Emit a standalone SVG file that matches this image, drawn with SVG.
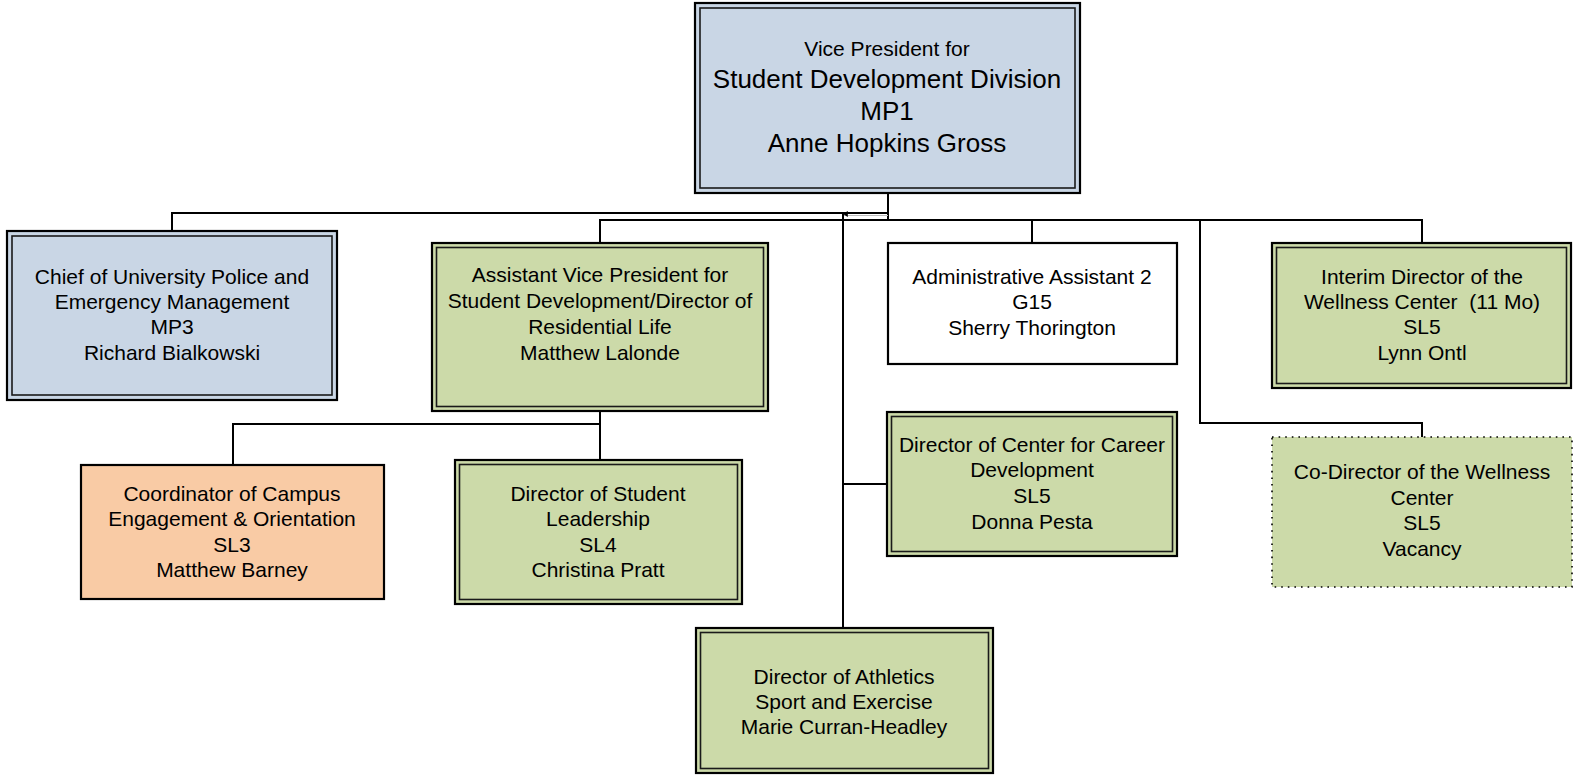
<svg xmlns="http://www.w3.org/2000/svg" width="1574" height="775" viewBox="0 0 1574 775">
<defs>
<style>
.o{stroke:#000;stroke-width:2.2}
.i{fill:none;stroke:#1a1a1a;stroke-width:1.6}
.blue{fill:#c9d6e5}
.green{fill:#ccdaa9}
.orange{fill:#f9cba5}
.white{fill:#fff}
.dot{fill:#ccdaa9;stroke:#000;stroke-width:1.6;stroke-dasharray:1.6 5}
text{font-family:"Liberation Sans",Arial,sans-serif;font-size:21px;fill:#000;text-anchor:middle}
.big{font-size:26px}
.con{fill:none;stroke:#000;stroke-width:2}
</style>
<marker id="arr" viewBox="0 0 10 10" refX="5" refY="1" markerWidth="6" markerHeight="6" orient="auto-start-reverse" markerUnits="userSpaceOnUse">
<path d="M0,9 L5,1 L10,9 Z" fill="#000"/>
</marker>
</defs>
<rect width="1574" height="775" fill="#fff"/>
<g id="connectors">
<path class="con" d="M888,193 V220"/>
<path class="con" d="M888,213 H172 V231"/>
<path stroke="#bbb" stroke-width="1" d="M843,215.5 H888"/>
<path class="con" d="M600,243 V220 H1422 V243"/>
<path class="con" d="M1032,220 V243"/>
<path class="con" d="M1200,220 V423 H1422 V437"/>
<path class="con" d="M843,628 V214" marker-end="url(#arr)"/>
<path class="con" d="M843,484 H887"/>
<path class="con" d="M600,411 V460"/>
<path class="con" d="M600,424 H233 V465"/>
</g>
<g id="vp">
<rect class="o blue" x="695" y="3" width="385" height="190"/>
<rect class="i" x="700" y="8" width="375" height="180"/>
<text x="887" y="56">Vice President for</text>
<text class="big" x="887" y="88">Student Development Division</text>
<text class="big" x="887" y="120">MP1</text>
<text class="big" x="887" y="152">Anne Hopkins Gross</text>
</g>
<g id="chief">
<rect class="o blue" x="7" y="231" width="330" height="169"/>
<rect class="i" x="12" y="236" width="320" height="159"/>
<text x="172" y="284">Chief of University Police and</text>
<text x="172" y="309">Emergency Management</text>
<text x="172" y="334">MP3</text>
<text x="172" y="360">Richard Bialkowski</text>
</g>
<g id="avp">
<rect class="o green" x="432" y="243" width="336" height="168"/>
<rect class="i" x="436.5" y="247.5" width="327" height="159"/>
<text x="600" y="282">Assistant Vice President for</text>
<text x="600" y="308">Student Development/Director of</text>
<text x="600" y="334">Residential Life</text>
<text x="600" y="360">Matthew Lalonde</text>
</g>
<g id="admin">
<rect class="o white" x="888" y="243" width="289" height="121"/>
<text x="1032" y="284">Administrative Assistant 2</text>
<text x="1032" y="309">G15</text>
<text x="1032" y="335">Sherry Thorington</text>
</g>
<g id="interim">
<rect class="o green" x="1272" y="243" width="299" height="145"/>
<rect class="i" x="1276.5" y="247.5" width="290" height="136"/>
<text x="1422" y="284">Interim Director of the</text>
<text x="1422" y="309" xml:space="preserve">Wellness Center  (11 Mo)</text>
<text x="1422" y="334">SL5</text>
<text x="1422" y="360">Lynn Ontl</text>
</g>
<g id="career">
<rect class="o green" x="887" y="412" width="290" height="144"/>
<rect class="i" x="891.5" y="416.5" width="281" height="135"/>
<text x="1032" y="452">Director of Center for Career</text>
<text x="1032" y="477">Development</text>
<text x="1032" y="503">SL5</text>
<text x="1032" y="529">Donna Pesta</text>
</g>
<g id="codirector">
<rect class="dot" x="1272" y="437" width="300" height="150"/>
<text x="1422" y="479">Co-Director of the Wellness</text>
<text x="1422" y="505">Center</text>
<text x="1422" y="530">SL5</text>
<text x="1422" y="556">Vacancy</text>
</g>
<g id="coordinator">
<rect class="o orange" x="81" y="465" width="303" height="134"/>
<text x="232" y="501">Coordinator of Campus</text>
<text x="232" y="526">Engagement &amp; Orientation</text>
<text x="232" y="552">SL3</text>
<text x="232" y="577">Matthew Barney</text>
</g>
<g id="leadership">
<rect class="o green" x="455" y="460" width="287" height="144"/>
<rect class="i" x="459.5" y="464.5" width="278" height="135"/>
<text x="598" y="501">Director of Student</text>
<text x="598" y="526">Leadership</text>
<text x="598" y="552">SL4</text>
<text x="598" y="577">Christina Pratt</text>
</g>
<g id="athletics">
<rect class="o green" x="696" y="628" width="297" height="145"/>
<rect class="i" x="700.5" y="632.5" width="288" height="136"/>
<text x="844" y="684">Director of Athletics</text>
<text x="844" y="709">Sport and Exercise</text>
<text x="844" y="734">Marie Curran-Headley</text>
</g>
</svg>
